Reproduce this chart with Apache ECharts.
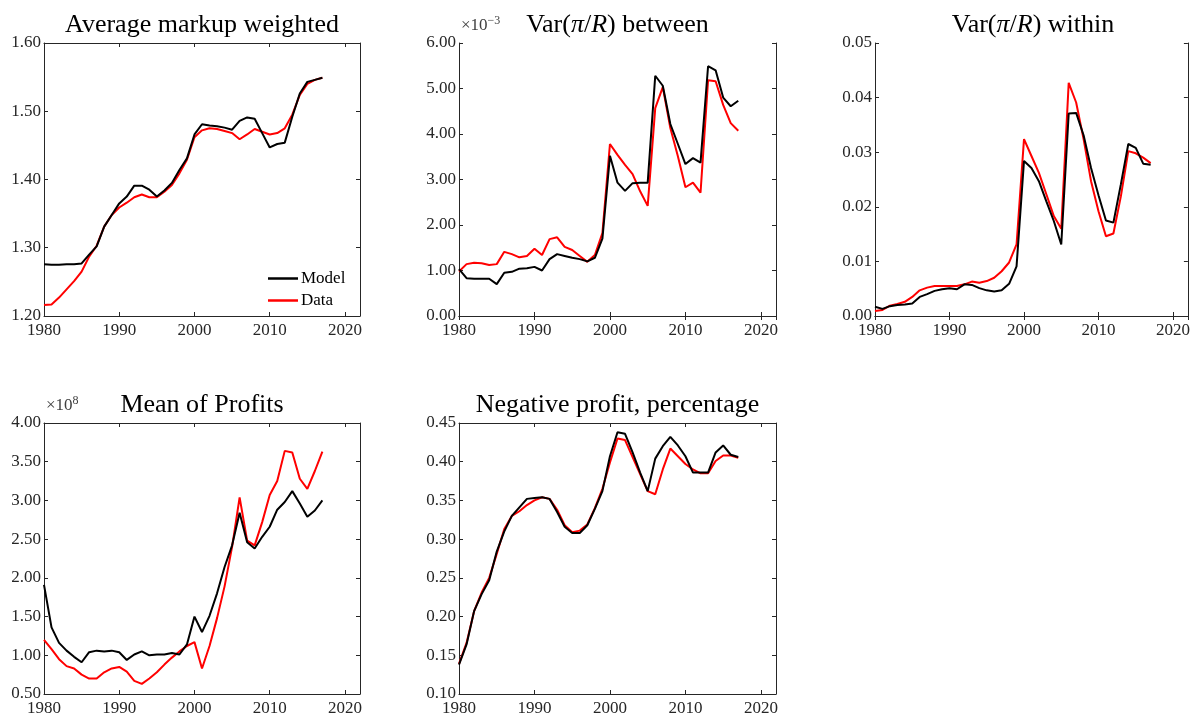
<!DOCTYPE html>
<html><head><meta charset="utf-8">
<script src="https://cdn.jsdelivr.net/npm/echarts@6/dist/echarts.min.js"></script>
<style>html,body{margin:0;padding:0;background:#fff}#c{width:1193px;height:717px}</style>
</head><body><div id="c"></div><script>
const years = [1980,1981,1982,1983,1984,1985,1986,1987,1988,1989,1990,1991,1992,1993,1994,1995,1996,1997,1998,1999,2000,2001,2002,2003,2004,2005,2006,2007,2008,2009,2010,2011,2012,2013,2014,2015,2016,2017];
const xTicks = [1980,1990,2000,2010,2020];
const markupModel = [1.276,1.275,1.275,1.276,1.276,1.277,1.290,1.302,1.331,1.348,1.365,1.375,1.391,1.391,1.385,1.375,1.384,1.395,1.414,1.431,1.466,1.481,1.479,1.478,1.476,1.473,1.486,1.491,1.489,1.468,1.447,1.452,1.454,1.492,1.526,1.543,1.546,1.549];
const markupData = [1.216,1.217,1.227,1.239,1.251,1.265,1.287,1.303,1.331,1.348,1.359,1.366,1.374,1.378,1.374,1.374,1.382,1.392,1.409,1.429,1.462,1.472,1.475,1.474,1.471,1.468,1.459,1.466,1.474,1.470,1.466,1.468,1.475,1.495,1.524,1.540,1.546,1.549];
const betweenModel = [1.03,0.83,0.82,0.82,0.82,0.70,0.95,0.97,1.04,1.05,1.08,1.00,1.25,1.36,1.32,1.28,1.25,1.20,1.28,1.70,3.52,2.93,2.75,2.92,2.93,2.93,5.28,5.06,4.22,3.78,3.34,3.47,3.37,5.49,5.40,4.80,4.61,4.73];
const betweenData = [0.98,1.14,1.17,1.16,1.12,1.14,1.41,1.36,1.29,1.32,1.48,1.34,1.69,1.73,1.52,1.45,1.32,1.19,1.34,1.82,3.78,3.54,3.32,3.12,2.74,2.42,4.57,5.03,4.13,3.51,2.83,2.93,2.71,5.18,5.16,4.64,4.24,4.07];
const withinModel = [0.0017,0.0013,0.0018,0.0020,0.0021,0.0023,0.0035,0.0040,0.0046,0.0049,0.0051,0.0049,0.0058,0.0057,0.0051,0.0047,0.0045,0.0047,0.0059,0.0091,0.0284,0.0271,0.0247,0.0210,0.0174,0.0131,0.0371,0.0372,0.0331,0.0271,0.0221,0.0175,0.0171,0.0241,0.0315,0.0308,0.0279,0.0277];
const withinData = [0.0009,0.0011,0.0019,0.0022,0.0026,0.0035,0.0047,0.0052,0.0055,0.0055,0.0055,0.0055,0.0058,0.0063,0.0061,0.0064,0.0070,0.0082,0.0098,0.0131,0.0324,0.0293,0.0262,0.0223,0.0183,0.0160,0.0427,0.0391,0.0324,0.0247,0.0192,0.0146,0.0151,0.0219,0.0302,0.0298,0.0290,0.0280];
const profitModel = [1.91,1.36,1.16,1.06,0.98,0.91,1.04,1.06,1.05,1.06,1.04,0.94,1.01,1.05,1.00,1.01,1.01,1.03,1.01,1.14,1.50,1.30,1.51,1.80,2.14,2.42,2.84,2.46,2.38,2.53,2.66,2.88,2.98,3.12,2.96,2.79,2.87,3.00];
const profitData = [1.20,1.08,0.95,0.86,0.83,0.75,0.70,0.70,0.78,0.83,0.85,0.79,0.67,0.63,0.70,0.78,0.88,0.97,1.05,1.12,1.17,0.83,1.12,1.48,1.89,2.40,3.04,2.48,2.42,2.72,3.07,3.25,3.64,3.62,3.28,3.15,3.38,3.63];
const negModel = [0.138,0.164,0.207,0.229,0.247,0.284,0.310,0.330,0.341,0.352,0.353,0.354,0.352,0.335,0.316,0.308,0.308,0.318,0.339,0.362,0.407,0.438,0.436,0.412,0.386,0.362,0.404,0.420,0.432,0.421,0.407,0.386,0.386,0.386,0.412,0.421,0.409,0.406];
const negData = [0.139,0.166,0.207,0.231,0.250,0.281,0.313,0.330,0.336,0.344,0.350,0.354,0.352,0.338,0.318,0.309,0.311,0.319,0.340,0.365,0.399,0.430,0.428,0.406,0.384,0.362,0.358,0.390,0.417,0.407,0.397,0.390,0.385,0.385,0.401,0.408,0.408,0.405];

const panels = [
  {title:'Average markup weighted', model:markupModel, data:markupData, min:1.2, max:1.6, interval:0.1, exp:null, grid:{left:44,top:43,width:316,height:273}},
  {title:'Var({it|π}/{it|R}) between', model:betweenModel, data:betweenData, min:0, max:6, interval:1, exp:'-3', grid:{left:459,top:43,width:317,height:273}},
  {title:'Var({it|π}/{it|R}) within', model:withinModel, data:withinData, min:0, max:0.05, interval:0.01, exp:null, grid:{left:875,top:43,width:316,height:273}},
  {title:'Mean of Profits', model:profitModel, data:profitData, min:0.5, max:4, interval:0.5, exp:'8', grid:{left:44,top:423,width:316,height:273}},
  {title:'Negative profit, percentage', model:negModel, data:negData, min:0.1, max:0.45, interval:0.05, exp:null, grid:{left:459,top:423,width:317,height:273}}
];

const FONT = 'Liberation Serif';
const AX = '#262626';
const grids=[], xAxes=[], yAxes=[], series=[], graphics=[];
panels.forEach((p,i)=>{
  grids.push(Object.assign({containLabel:false}, p.grid));
  const common = {axisLine:{show:true,lineStyle:{color:AX,width:1}}, axisTick:{show:true,inside:true,length:4,lineStyle:{color:AX}}, splitLine:{show:false}};
  xAxes.push(Object.assign({type:'value',gridIndex:i,position:'bottom',min:1980,max:2022,interval:10,
    axisLabel:{fontFamily:FONT,fontSize:17,color:AX,margin:6,formatter:v=>xTicks.includes(v)?String(v):''}}, common));
  xAxes.push(Object.assign({type:'value',gridIndex:i,position:'top',min:1980,max:2022,interval:10,axisLabel:{show:false}}, common));
  yAxes.push(Object.assign({type:'value',gridIndex:i,position:'left',min:p.min,max:p.max,interval:p.interval,
    axisLabel:{fontFamily:FONT,fontSize:17,color:AX,margin:3,formatter:v=>v.toFixed(2)}}, common));
  yAxes.push(Object.assign({type:'value',gridIndex:i,position:'right',min:p.min,max:p.max,interval:p.interval,axisLabel:{show:false}}, common));
  series.push({name:'Model',type:'line',xAxisIndex:2*i,yAxisIndex:2*i,symbol:'none',data:years.map((y,k)=>[y,p.model[k]]),lineStyle:{color:'#000',width:2},itemStyle:{color:'#000'},z:3});
  series.push({name:'Data',type:'line',xAxisIndex:2*i,yAxisIndex:2*i,symbol:'none',data:years.map((y,k)=>[y,p.data[k]]),lineStyle:{color:'#ff0000',width:2},itemStyle:{color:'#ff0000'},z:2});
  const g = p.grid;
  graphics.push({type:'text',x:g.left+g.width/2,y:g.top-18,style:{text:p.title,font:'26px "'+FONT+'"',fill:'#000',align:'center',verticalAlign:'middle',
    rich:{it:{fontStyle:'italic',fontSize:26,fontFamily:FONT}}}});
  if(p.exp){
    graphics.push({type:'text',x:g.left+2,y:g.top-7,style:{text:'×10{sup|'+(p.exp.replace('-','−'))+'}',font:'17px "'+FONT+'"',fill:'#404040',align:'left',verticalAlign:'bottom',
      rich:{sup:{fontSize:12,fontFamily:FONT,fill:'#404040',verticalAlign:'top',padding:[0,0,9,0]}}}});
  }
});

const chart = echarts.init(document.getElementById('c'),null,{renderer:'canvas'});
chart.setOption({
  animation:false,
  backgroundColor:'#fff',
  grid:grids, xAxis:xAxes, yAxis:yAxes, series:series,
  legend:{data:[{name:'Model',icon:'rect'},{name:'Data',icon:'rect'}],orient:'vertical',left:268,top:270,padding:0,itemWidth:30,itemHeight:2.5,itemGap:5,
    textStyle:{fontFamily:FONT,fontSize:17,color:'#000',padding:[0,0,0,-2]},selectedMode:false},
  graphic:graphics
});
</script></body></html>
